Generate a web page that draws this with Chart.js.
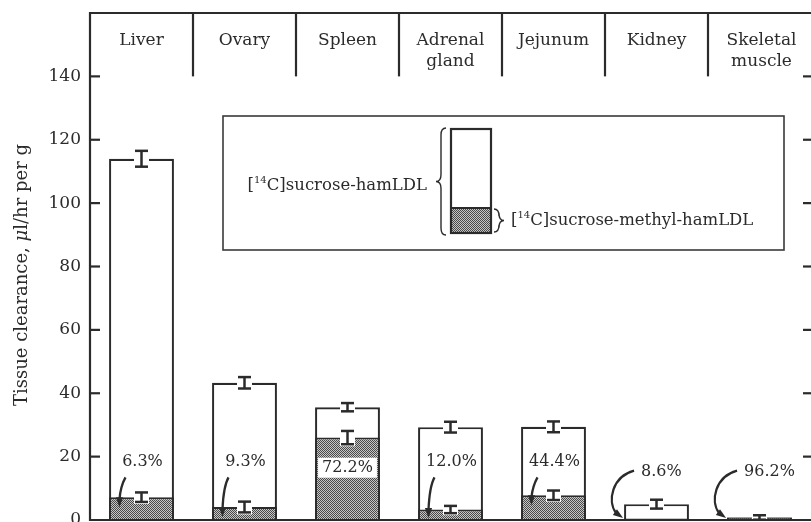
<!DOCTYPE html>
<html>
<head>
<meta charset="utf-8">
<script src="https://cdn.jsdelivr.net/npm/chart.js@4.4.0/dist/chart.umd.min.js"></script>
<style>
  html, body { margin: 0; padding: 0; background: #fff; }
  canvas { display: block; }
</style>
</head>
<body>
<canvas id="c" width="811" height="522"></canvas>
<script>
// Tissue clearance of hamster LDL, native vs. methylated (μl/hr per g)
const tissues = [['Liver'], ['Ovary'], ['Spleen'], ['Adrenal', 'gland'], ['Jejunum'], ['Kidney'], ['Skeletal', 'muscle']];
const hamLDL = [114.0, 43.3, 35.6, 29.3, 29.4, 5.0, 0.8];
const hamLDLErr = [2.5, 1.8, 1.3, 1.7, 1.7, 1.4, 0.7];
const methylLDL = [7.2, 4.1, 26.0, 3.3, 7.8, 0.45, 0.77];
const methylLDLErr = [1.5, 1.7, 2.1, 1.15, 1.5, 0, 0];
const percentLabels = ['6.3%', '9.3%', '72.2%', '12.0%', '44.4%', '8.6%', '96.2%'];
const yTicks = [0, 20, 40, 60, 80, 100, 120, 140];

// how each percentage is placed: short arrow below text, boxed inside bar, or hooked arrow from the side
const labelPlacement = ['above', 'above', 'inside', 'above', 'above', 'side', 'side'];

const INK = '#2b2b2b';
const SERIF = '"DejaVu Serif", serif';

const canvas = document.getElementById('c');
const ctx0 = canvas.getContext('2d');

// fine stipple fill for the methyl-LDL bars
const tile = document.createElement('canvas');
tile.width = 2; tile.height = 2;
const tg = tile.getContext('2d');
tg.fillStyle = '#c6c6c6'; tg.fillRect(0, 0, 2, 2);
tg.fillStyle = '#4a4a4a'; tg.fillRect(0, 0, 1, 1); tg.fillRect(1, 1, 1, 1);
const stipple = ctx0.createPattern(tile, 'repeat');

function seg(ctx, x1, y1, x2, y2) {
  ctx.beginPath(); ctx.moveTo(x1, y1); ctx.lineTo(x2, y2); ctx.stroke();
}

function iBeam(ctx, x, yTop, yBot) {
  const w = 13;
  ctx.fillStyle = '#fff';
  ctx.fillRect(x - w / 2 - 1, yTop - 2, w + 2, yBot - yTop + 4);
  ctx.strokeStyle = INK;
  ctx.lineWidth = 2.5;
  ctx.lineCap = 'butt';
  seg(ctx, x - w / 2, yTop, x + w / 2, yTop);
  seg(ctx, x - w / 2, yBot, x + w / 2, yBot);
  seg(ctx, x, yTop, x, yBot);
}

function arrowHead(ctx, x, y, angle) {
  ctx.save();
  ctx.translate(x, y);
  ctx.rotate(angle);
  ctx.fillStyle = INK;
  ctx.beginPath();
  ctx.moveTo(0, 0);
  ctx.lineTo(-10, -3.6);
  ctx.lineTo(-10, 3.6);
  ctx.closePath();
  ctx.fill();
  ctx.restore();
}

// text made of runs; each run: [text, kind] where kind is '', 'sup' or 'it'
function runs(ctx, parts, x, y, align, size) {
  const fontFor = k => k === 'sup' ? `${Math.round(size * 0.62)}px ${SERIF}` :
                       k === 'it' ? `italic ${size}px ${SERIF}` : `${size}px ${SERIF}`;
  let total = 0;
  for (const [t, k] of parts) { ctx.font = fontFor(k); total += ctx.measureText(t).width; }
  let cx = align === 'right' ? x - total : align === 'center' ? x - total / 2 : x;
  ctx.textAlign = 'left';
  ctx.textBaseline = 'middle';
  for (const [t, k] of parts) {
    ctx.font = fontFor(k);
    ctx.fillText(t, cx, k === 'sup' ? y - size * 0.33 : y);
    cx += ctx.measureText(t).width;
  }
}

function brace(ctx, x, y1, y2, dir) {
  // dir = -1 draws "{", dir = +1 draws "}"
  const w = 5, r = 7, ym = (y1 + y2) / 2;
  ctx.beginPath();
  ctx.moveTo(x - dir * w, y1);
  ctx.quadraticCurveTo(x, y1, x, y1 + r);
  ctx.lineTo(x, ym - r);
  ctx.quadraticCurveTo(x, ym, x + dir * w, ym);
  ctx.quadraticCurveTo(x, ym, x, ym + r);
  ctx.lineTo(x, y2 - r);
  ctx.quadraticCurveTo(x, y2, x - dir * w, y2);
  ctx.stroke();
}

const frame = {
  id: 'frame',
  afterDatasetsDraw(chart) {
    const { ctx, chartArea: a, scales: { x, y } } = chart;
    const n = tissues.length;
    const colW = (a.right - a.left) / n;
    const meta = chart.getDatasetMeta(1);
    ctx.save();

    // error bars
    for (let i = 0; i < n; i++) {
      const cx = x.getPixelForValue(i);
      if (hamLDLErr[i] > 0)
        iBeam(ctx, cx, y.getPixelForValue(hamLDL[i] + hamLDLErr[i]), y.getPixelForValue(hamLDL[i] - hamLDLErr[i]));
      if (methylLDLErr[i] > 0)
        iBeam(ctx, cx, y.getPixelForValue(methylLDL[i] + methylLDLErr[i]), y.getPixelForValue(methylLDL[i] - methylLDLErr[i]));
    }

    // outer frame
    ctx.strokeStyle = INK;
    ctx.lineWidth = 2.2;
    seg(ctx, a.left, a.top - 1, a.left, a.bottom + 1);
    seg(ctx, a.left, a.top, a.right + 2, a.top);
    seg(ctx, a.left, a.bottom, a.right + 2, a.bottom);

    // inward ticks on both sides
    for (const t of yTicks) {
      if (t === 0) continue;
      const py = y.getPixelForValue(t);
      seg(ctx, a.left, py, a.left + 10, py);
      seg(ctx, a.right - 8, py, a.right + 2, py);
    }

    // tissue header strip
    const headBottom = y.getPixelForValue(140);
    for (let i = 1; i < n; i++) {
      const bx = a.left + i * colW;
      seg(ctx, bx, a.top, bx, headBottom);
    }
    ctx.fillStyle = INK;
    ctx.font = `17px ${SERIF}`;
    ctx.textAlign = 'center';
    ctx.textBaseline = 'middle';
    tissues.forEach((lines, i) => {
      const cx = a.left + (i + 0.5) * colW;
      lines.forEach((t, j) => ctx.fillText(t, cx + (i === 6 ? 2 : 0), a.top + 28 + j * 21));
    });

    // percentage annotations
    ctx.font = `16px ${SERIF}`;
    for (let i = 0; i < n; i++) {
      const bar = meta.data[i];
      const cx = bar.x;
      const left = bar.x - bar.width / 2;
      const methTop = y.getPixelForValue(methylLDL[i]);
      ctx.strokeStyle = INK;
      ctx.fillStyle = INK;
      ctx.lineWidth = 2.3;
      if (labelPlacement[i] === 'above') {
        const ly = y.getPixelForValue(18.2);
        ctx.textAlign = 'center'; ctx.textBaseline = 'middle';
        ctx.fillText(percentLabels[i], cx + 1, ly);
        const sx = cx - 16, sy = ly + 15;
        const ex = cx - 22, ey = Math.min(methTop + 10, a.bottom - 2);
        ctx.beginPath();
        ctx.moveTo(sx, sy);
        ctx.quadraticCurveTo(ex + 1, sy + 9, ex, ey - 8);
        ctx.stroke();
        arrowHead(ctx, ex, ey, Math.PI / 2);
      } else if (labelPlacement[i] === 'inside') {
        const ly = y.getPixelForValue(16.5);
        const w = ctx.measureText(percentLabels[i]).width;
        ctx.fillStyle = '#fff';
        ctx.fillRect(cx - w / 2 - 4, ly - 10, w + 8, 20);
        ctx.fillStyle = INK;
        ctx.textAlign = 'center'; ctx.textBaseline = 'middle';
        ctx.fillText(percentLabels[i], cx, ly);
      } else {
        const ly = y.getPixelForValue(15.3);
        ctx.textAlign = 'left'; ctx.textBaseline = 'middle';
        ctx.fillText(percentLabels[i], left + 17, ly);
        const sx = left + 10, sy = ly - 1;
        const ex = left - 1, ey = a.bottom - 2;
        const c2x = left - 17, c2y = ey - 13;
        ctx.beginPath();
        ctx.moveTo(sx, sy);
        ctx.bezierCurveTo(left - 12, sy + 6, c2x, c2y - 4, ex - 7, ey - 5);
        ctx.stroke();
        arrowHead(ctx, ex, ey, Math.atan2(5, 7));
      }
    }

    // key box
    ctx.strokeStyle = '#3a3a3a';
    ctx.lineWidth = 1.6;
    ctx.strokeRect(223, 116, 561, 134);
    // sample bar
    ctx.fillStyle = stipple;
    ctx.fillRect(451, 208, 40, 25);
    ctx.strokeStyle = INK;
    ctx.lineWidth = 2.2;
    ctx.strokeRect(451, 129, 40, 104);
    seg(ctx, 451, 208, 491, 208);
    ctx.lineWidth = 1.4;
    brace(ctx, 441, 128, 235, -1);
    brace(ctx, 499, 209, 232, 1);
    ctx.fillStyle = INK;
    runs(ctx, [['[', ''], ['14', 'sup'], ['C]sucrose-hamLDL', '']], 427, 186, 'right', 16.5);
    runs(ctx, [['[', ''], ['14', 'sup'], ['C]sucrose-methyl-hamLDL', '']], 511, 221, 'left', 16.5);

    // vertical axis title
    ctx.save();
    ctx.translate(22, 275);
    ctx.rotate(-Math.PI / 2);
    runs(ctx, [['Tissue clearance, ', ''], ['μ', 'it'], ['l/hr per g', '']], 0, 0, 'center', 18);
    ctx.restore();

    ctx.restore();
  }
};

new Chart(canvas, {
  type: 'bar',
  data: {
    labels: tissues.map(t => t.join(' ')),
    datasets: [
      {
        label: '[14C]sucrose-methyl-hamLDL',
        data: methylLDL,
        backgroundColor: stipple,
        borderColor: INK,
        borderWidth: { top: 2, left: 2, right: 2, bottom: 0 },
        borderSkipped: false,
        grouped: false,
        barPercentage: 0.63,
        categoryPercentage: 1
      },
      {
        label: '[14C]sucrose-hamLDL',
        data: hamLDL,
        backgroundColor: '#fff',
        borderColor: INK,
        borderWidth: 2.2,
        grouped: false,
        barPercentage: 0.63,
        categoryPercentage: 1
      }
    ]
  },
  options: {
    responsive: false,
    animation: false,
    layout: { padding: { top: 13, bottom: 2, left: 0, right: 0 } },
    plugins: { legend: { display: false }, tooltip: { enabled: false } },
    scales: {
      x: { display: false, offset: true },
      y: {
        min: 0, max: 160,
        border: { display: false },
        grid: { display: false, drawTicks: false },
        ticks: {
          stepSize: 20,
          padding: 9,
          color: INK,
          font: { family: SERIF, size: 17 },
          callback: v => yTicks.includes(v) ? String(v) : ''
        },
        afterFit: s => { s.width = 90; s.paddingTop = 0; s.paddingBottom = 0; }
      }
    }
  },
  plugins: [frame]
});
</script>
</body>
</html>
